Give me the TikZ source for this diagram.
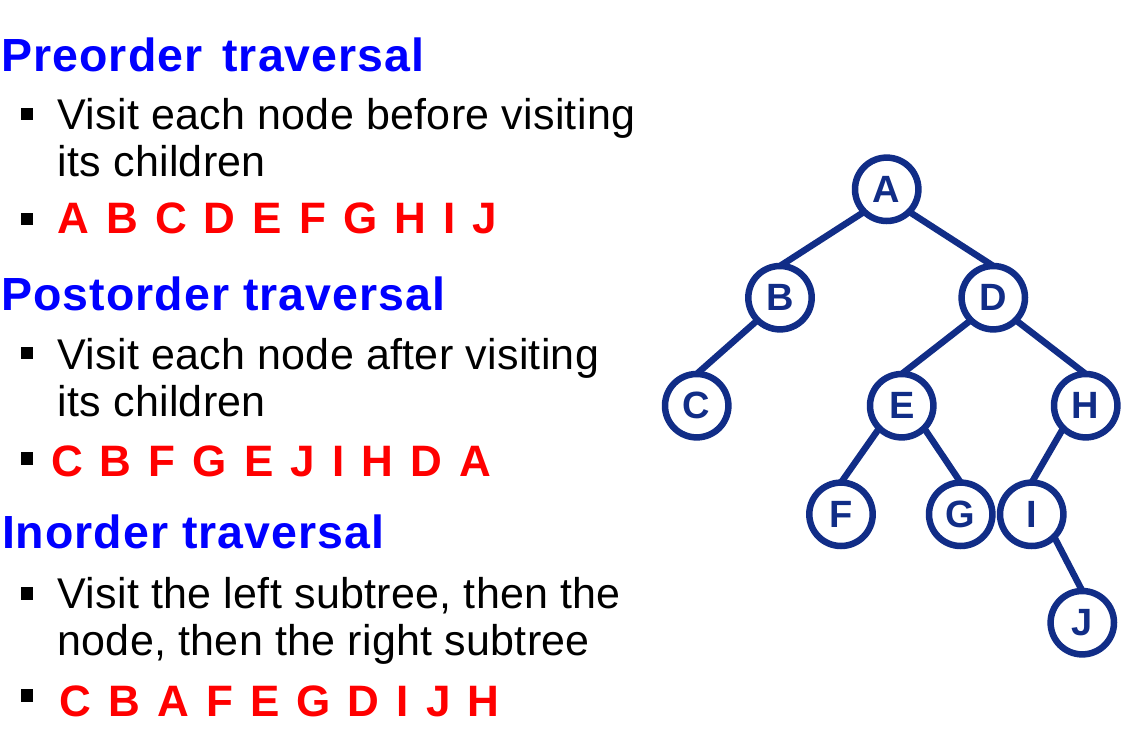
\documentclass[tikz,border=0pt]{standalone}
\usepackage{fontspec}
\setmainfont{Liberation Sans}
\newfontfamily\headfont[LetterSpace=2.2]{Liberation Sans}
\newfontfamily\bodyfont[LetterSpace=0.65]{Liberation Sans}
\definecolor{navy}{RGB}{17,45,135}
\newcommand\gapR{\hspace{17.1pt}}
\tikzset{
  head/.style={anchor=base west, inner sep=0pt, outer sep=0pt, text=blue, font=\headfont\fontsize{46.5}{56}\selectfont\bfseries},
  bodytext/.style={anchor=base west, inner sep=0pt, outer sep=0pt, text=black, font=\bodyfont\fontsize{43}{50}\selectfont},
  seqtext/.style={anchor=base west, inner sep=0pt, outer sep=0pt, text=red, font=\fontsize{44}{50}\selectfont\bfseries},
  bulletbox/.style={rectangle, fill=black, inner sep=0pt, outer sep=0pt, minimum size=12.5pt},
  tnode/.style={circle, draw=navy, fill=white, line width=6.5pt, minimum size=63.4pt, inner sep=0pt, outer sep=0pt, text=navy, font=\fontsize{38}{40}\selectfont\bfseries},
  tedge/.style={draw=navy, line width=6.5pt}
}
\begin{document}
\begin{tikzpicture}[x=1pt,y=-1pt]
\useasboundingbox[fill=white] (0,0) rectangle (1136,733);
% headings
\node[head] (h1) at (1.5,71.7) {Preorder\hspace{20pt}traversal};
\node[head] (h2) at (1.5,310) {Postorder traversal};
\node[head] (h3) at (2,548.3) {Inorder traversal};
% bullets
\node[bulletbox] (b1) at (27,114) {};
\node[bulletbox] (b2) at (27,219) {};
\node[bulletbox] (b3) at (27,353) {};
\node[bulletbox] (b4) at (27,458.3) {};
\node[bulletbox] (b5) at (27,593.7) {};
\node[bulletbox] (b6) at (27,695.3) {};
% body text
\node[bodytext] (t1a) at (57.5,130) {Visit each node before visiting};
\node[bodytext] (t1b) at (57.5,176.7) {its children};
\node[bodytext] (t2a) at (57.5,369.3) {Visit each node after visiting};
\node[bodytext] (t2b) at (57.5,416.7) {its children};
\node[bodytext] (t3a) at (57.5,608.3) {Visit the left subtree, then the};
\node[bodytext] (t3b) at (57.5,655) {node, then the right subtree};
% sequences
\node[seqtext] (s1) at (57.3,233.3) {A\gapR B\gapR C\gapR D\gapR E\gapR F\gapR G\gapR H\gapR I\gapR J};
\node[seqtext] (s2) at (51,476) {C\gapR B\gapR F\gapR G\gapR E\gapR J\gapR I\gapR H\gapR D\gapR A};
\node[seqtext] (s3) at (59.5,716) {C\gapR B\gapR A\gapR F\gapR E\gapR G\gapR D\gapR I\gapR J\gapR H};
% tree
\node[tnode] (A) at (886.7,189.3) {A};
\node[tnode] (B) at (780,297.7) {B};
\node[tnode] (D) at (993.3,297.7) {D};
\node[tnode] (C) at (696.7,405.7) {C};
\node[tnode] (E) at (901.7,405.7) {E};
\node[tnode] (H) at (1085.7,405.7) {H};
\node[tnode] (F) at (841,514.3) {F};
\node[tnode] (G) at (960.7,514.3) {G};
\node[tnode] (I) at (1031.7,514.3) {I};
\node[tnode] (J) at (1082.3,622.7) {J};
\draw[tedge] (A.south west) -- (B.north);
\draw[tedge] (A.south east) -- (D.north);
\draw[tedge] (B.south west) -- (C.north);
\draw[tedge] (D.south west) -- (E.north);
\draw[tedge] (D.south east) -- (H.north);
\draw[tedge] (E.south west) -- (F.north);
\draw[tedge] (E.south east) -- (G.north);
\draw[tedge] (H.south west) -- (I.north);
\draw[tedge] (I.south east) -- (J.north);
\end{tikzpicture}
\end{document}
